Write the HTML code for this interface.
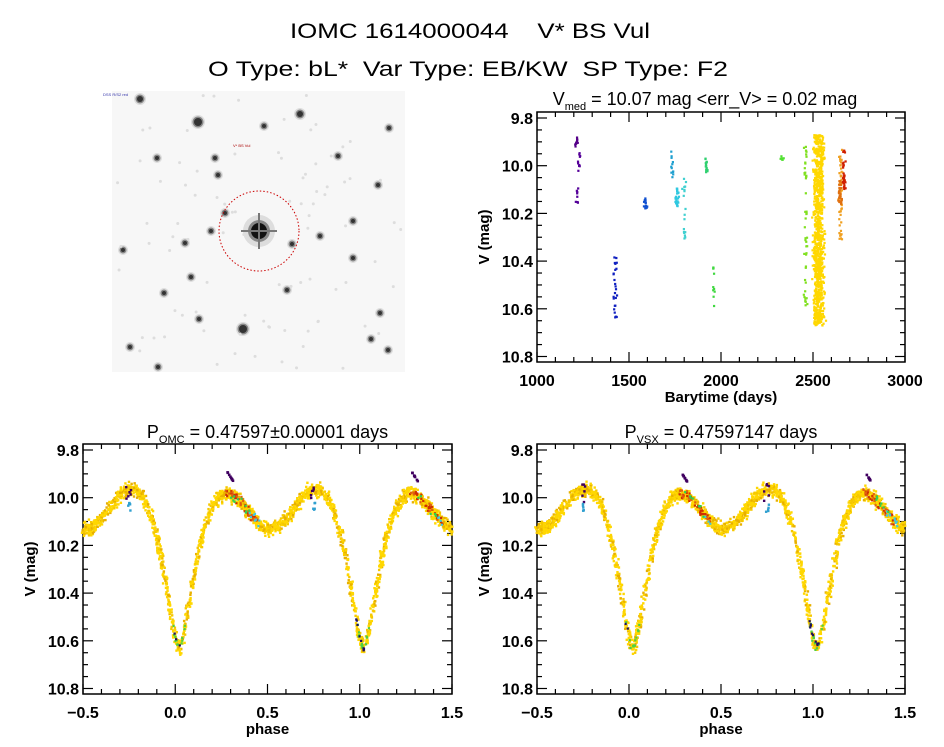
<!DOCTYPE html>
<html><head><meta charset="utf-8">
<style>
html,body{margin:0;padding:0;background:#fff;}
svg{display:block;font-family:"Liberation Sans",sans-serif;}
text{white-space:pre;}
</style></head>
<body>
<svg id="s" width="944" height="747" viewBox="0 0 944 747" xmlns="http://www.w3.org/2000/svg" xml:space="preserve">
<rect width="944" height="747" fill="#fff"/>
<text x="470" y="38" font-size="21" text-anchor="middle" textLength="360" lengthAdjust="spacingAndGlyphs">IOMC 1614000044    V* BS Vul</text>
<text x="468" y="76" font-size="21" text-anchor="middle" textLength="520" lengthAdjust="spacingAndGlyphs">O Type: bL*  Var Type: EB/KW  SP Type: F2</text>
<rect x="112" y="91" width="293" height="281" fill="#f7f7f7"/>
<g id="img"></g>
<circle cx="259" cy="231" r="40" fill="none" stroke="#c00" stroke-width="1" stroke-dasharray="1.5,2"/>
<text x="103" y="96" font-size="4" fill="#33a">DSS R/S2 red</text>
<text x="233" y="147" font-size="4" fill="#a00">V* BS Vul</text>
<g id="p1"></g><g id="p2"></g><g id="p3"></g>
</svg>
<script>
var NS="http://www.w3.org/2000/svg";
function el(p,t,a,txt){var e=document.createElementNS(NS,t);for(var k in a)e.setAttribute(k,a[k]);if(txt!==undefined)e.textContent=txt;p.appendChild(e);return e;}
var seed=12345;function rnd(){seed=(seed*1103515245+12345)%2147483648;return seed/2147483648;}
function gauss(){return (rnd()+rnd()+rnd()-1.5)*1.4;}
var img=document.getElementById('img');
var stars=[[140,99,3],[198,122,4],[300,114,3],[264,126,2],[215,158,2],[157,158,2],[218,175,2],[378,185,2],[211,231,2],[123,250,2],[320,236,2],[353,221,2],[292,244,2],[353,258,2],[164,293,2],[380,313,2],[243,329,4],[199,319,2],[371,339,2],[388,350,2],[130,347,2],[158,367,2],[338,156,2],[389,128,2],[287,290,2],[191,277,2],[225,213,2],[185,243,2]];
stars.forEach(function(s){el(img,'circle',{cx:s[0],cy:s[1],r:s[2]+3,fill:'#ddd'});el(img,'circle',{cx:s[0],cy:s[1],r:s[2]+1.5,fill:'#888'});el(img,'circle',{cx:s[0],cy:s[1],r:s[2],fill:'#333'});});
for(var i=0;i<90;i++){el(img,'circle',{cx:115+rnd()*287,cy:94+rnd()*275,r:1.5,fill:'#ddd'});}
el(img,'circle',{cx:259,cy:231,r:16,fill:'#ddd'});
el(img,'circle',{cx:259,cy:231,r:11,fill:'#888'});
el(img,'circle',{cx:259,cy:231,r:8,fill:'#111'});
el(img,'rect',{x:241,y:230,width:36,height:2,fill:'#777'});
el(img,'rect',{x:258,y:213,width:2,height:36,fill:'#777'});

function axes(g,x0,x1,y0,y1,xt,xmin,xmax,xlab,ylab){
 el(g,'rect',{x:x0,y:y0,width:x1-x0,height:y1-y0,fill:'none',stroke:'#000','stroke-width':1.5});
 var ym=function(v){return y0+6+(v-9.8)/1.0*(y1-y0-11.5);};
 for(var v=9.8;v<=10.81;v+=0.05){var y=ym(v);var maj=Math.abs(Math.round(v*5)-v*5)<0.01;var L=maj?10:5;
  el(g,'line',{x1:x0,x2:x0+L,y1:y,y2:y,stroke:'#000','stroke-width':1.2});el(g,'line',{x1:x1,x2:x1-L,y1:y,y2:y,stroke:'#000','stroke-width':1.2});
  if(maj)el(g,'text',{x:x0-4,y:y+6,'font-size':16,'font-weight':'bold','text-anchor':'end'},v.toFixed(1));}
 var xm=function(v){return x0+(v-xmin)/(xmax-xmin)*(x1-x0);};
 xt.forEach(function(t){var x=xm(t[0]);var L=t[2]?10:5;
  el(g,'line',{x1:x,x2:x,y1:y1,y2:y1-L,stroke:'#000','stroke-width':1.2});el(g,'line',{x1:x,x2:x,y1:y0,y2:y0+L,stroke:'#000','stroke-width':1.2});
  if(t[1]!==null)el(g,'text',{x:x,y:y1+24,'font-size':16,'font-weight':'bold','text-anchor':'middle'},t[1]);});
 el(g,'text',{x:(x0+x1)/2,y:y1+40,'font-size':15,'font-weight':'bold','text-anchor':'middle'},xlab);
 el(g,'text',{x:0,y:0,'font-size':15,'font-weight':'bold','text-anchor':'middle',transform:'translate('+(x0-48)+','+((y0+y1)/2)+') rotate(-90)'},ylab);
 return {xm:xm,ym:ym};
}
var p1=document.getElementById('p1');
var xt=[];for(var v=1000;v<=3000;v+=100){xt.push([v,v%500==0?String(v):null,v%500==0]);}
var A=axes(p1,537,905,112,362,xt,1000,3000,'Barytime (days)','V (mag)');
var t1=el(p1,'text',{x:705,y:105,'font-size':18,'text-anchor':'middle'});
t1.innerHTML='V<tspan font-size="11" dy="5">med</tspan><tspan dy="-5"> = 10.07 mag &lt;err_V&gt; = 0.02 mag</tspan>';
var segs=[[1215,9.88,9.92,'#550088',10],[1225,9.93,10.03,'#550099',10],[1220,10.09,10.17,'#550099',8],[1425,10.38,10.64,'#1020c0',25],[1590,10.13,10.18,'#1050d0',15],[1735,9.94,10.06,'#20a0d0',12],[1760,10.09,10.17,'#30c8e0',25],[1800,10.03,10.31,'#40d0d0',18],[1920,9.97,10.03,'#30d070',15],[1960,10.42,10.61,'#40d840',10],[2335,9.96,9.98,'#50e030',6],[2460,9.91,10.6,'#80e020',45],[2650,9.93,10.32,'#f0a020',50],[2648,10.06,10.17,'#e07010',30],[2668,9.92,10.1,'#d02000',30]];
segs.forEach(function(s){for(var i=0;i<s[4];i++){var m=s[1]+rnd()*(s[2]-s[1]);el(p1,'rect',{x:A.xm(s[0])-1+gauss()*1.2,y:A.ym(m)-1,width:2.2,height:2.2,fill:s[3]});}});
for(var i=0;i<900;i++){var m=9.87+rnd()*0.8;el(p1,'rect',{x:A.xm(2520)-3+rnd()*8+gauss()*2,y:A.ym(m)-1,width:2.2,height:2.2,fill:'#ffd700'});}
function curve(p){var f=p-0.02;f=f-Math.floor(f);var d=Math.min(f,1-f);var asym=0.01*Math.sin(2*Math.PI*f);
 return 10.05+0.08*Math.cos(4*Math.PI*f)+asym+0.5*Math.exp(-Math.pow(d/0.095,1.6));}
function phase(g,x0,x1,sub,rest){
 var xt=[];for(var v=-0.5;v<=1.501;v+=0.1){var r=Math.round(v*10)/10;var maj=Math.abs(r*2-Math.round(r*2))<0.01;xt.push([r,maj?(r<0?'\u22120.5':r.toFixed(1)):null,maj]);}
 var B=axes(g,x0,x1,444,694,xt,-0.5,1.5,'phase','V (mag)');
 var t=el(g,'text',{x:(x0+x1)/2,y:438,'font-size':18,'text-anchor':'middle'});
 t.innerHTML='P<tspan font-size="11" dy="5">'+sub+'</tspan><tspan dy="-5"> = '+rest+'</tspan>';
 var cols=['#ffd700','#ffd700','#ffd700','#ffd700','#f5c800','#e8b000'];
 for(var i=0;i<2200;i++){var p=-0.5+rnd()*2;var m=curve(p)+gauss()*0.02;el(g,'rect',{x:B.xm(p)-1+gauss()*1.5,y:B.ym(m)-1,width:2.4,height:2.4,fill:cols[i%6]});}
 var ex=[['#d03000',0.27,0.45,60],['#e06010',0.27,0.45,30],['#50d040',-0.02,0.06,25],['#40c8e0',0.4,0.46,12],['#201060',-0.02,0.04,12],['#30d050',0.3,0.42,15]];
 ex.forEach(function(e){for(var k=0;k<e[3];k++){var p=e[1]+rnd()*(e[2]-e[1]);if(rnd()<0.5)p+=1;if(p>1.5)p-=1;var m=curve(p)+gauss()*0.015;el(g,'rect',{x:B.xm(p)-1,y:B.ym(m)-1,width:2.2,height:2.2,fill:e[0]});}});
 [0.28,1.28].forEach(function(c){for(var k=0;k<8;k++){var p=c+rnd()*0.035;el(g,'rect',{x:B.xm(p)-1,y:B.ym(9.89+(p-c)*1.2)-1,width:2.6,height:2.6,fill:'#400060'});}});
 [-0.27,0.73].forEach(function(c){for(var k=0;k<6;k++){var p=c+rnd()*0.03;el(g,'rect',{x:B.xm(p)-1,y:B.ym(9.94+rnd()*0.08)-1,width:2.4,height:2.4,fill:'#400060'});}
  for(var k=0;k<5;k++){var p=c+0.01+rnd()*0.02;el(g,'rect',{x:B.xm(p)-1,y:B.ym(10.02+rnd()*0.04)-1,width:2.4,height:2.4,fill:'#30a0d0'});}});
}
phase(document.getElementById('p2'),83,452,'OMC','0.47597\u00b10.00001 days');
phase(document.getElementById('p3'),537,905,'VSX','0.47597147 days');
</script>
</body></html>
